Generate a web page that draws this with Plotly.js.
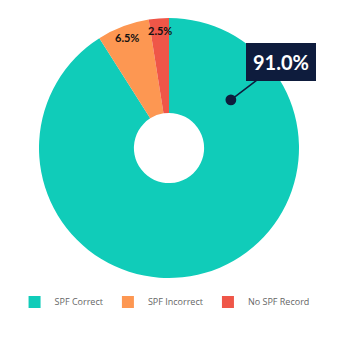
<!DOCTYPE html>
<html><head><meta charset="utf-8">
<script src="https://cdn.plot.ly/plotly-3.0.1.min.js"></script>
<style>html,body{margin:0;padding:0;background:#fff}#c{width:340px;height:344px}</style>
</head><body><div id="c"></div>
<script>
const categories = ["SPF Correct", "SPF Incorrect", "No SPF Record"];
const values = [91.0, 6.5, 2.5];
const sliceLabels = ["", "6.5%", "2.5%"];
const calloutLabel = "91.0%";
const colors = ["#10ccb9", "#fd9752", "#ef5648"];

const trace = {
  type: "pie",
  labels: categories,
  values: values,
  textinfo: "none",
  hole: 0.27,
  sort: false,
  direction: "clockwise",
  rotation: 0,
  marker: {colors: colors, line: {width: 0}},
  hoverinfo: "none"
};

// slice labels placed near outer edge, angle derived from the values
const total = values.reduce((a, b) => a + b, 0);
const sliceAnns = [];
let cum = 0;
values.forEach((v, i) => {
  const mid = (cum + v / 2) / total;
  cum += v;
  if (!sliceLabels[i]) return;
  const th = mid * 2 * Math.PI;
  const f = 0.91;
  sliceAnns.push({
    xref: "paper", yref: "paper", xanchor: "center", yanchor: "middle",
    x: 0.5 + 0.5 * f * Math.sin(th), y: 0.5 + 0.5 * f * Math.cos(th),
    text: sliceLabels[i], showarrow: false,
    font: {family: "Lato, sans-serif", size: 11, color: "#111", weight: "bold"}
  });
});

const layout = {
  width: 340, height: 344,
  margin: {l: 39, r: 41, t: 18, b: 66},
  paper_bgcolor: "#fff",
  showlegend: true,
  legend: {orientation: "h", x: -0.094, xanchor: "left", y: -0.092, yanchor: "middle",
    bgcolor: "rgba(0,0,0,0)",
    font: {family: "'Open Sans', sans-serif", size: 9, color: "#666"}, itemwidth: 30},
  annotations: sliceAnns.concat([{
    xref: "paper", yref: "paper", x: 0.738, y: 0.685,
    text: calloutLabel, showarrow: true, arrowhead: 6, arrowsize: 1.8, arrowwidth: 1.5,
    arrowcolor: "#0e1c3d", ax: 50, ay: -38, axref: "pixel", ayref: "pixel",
    bgcolor: "#0e1c3d", bordercolor: "#0e1c3d", borderpad: 6,
    font: {family: "Lato, sans-serif", size: 20, color: "#fff", weight: "bold"}
  }])
};

Plotly.newPlot("c", [trace], layout, {displayModeBar: false, staticPlot: true});
</script></body></html>
